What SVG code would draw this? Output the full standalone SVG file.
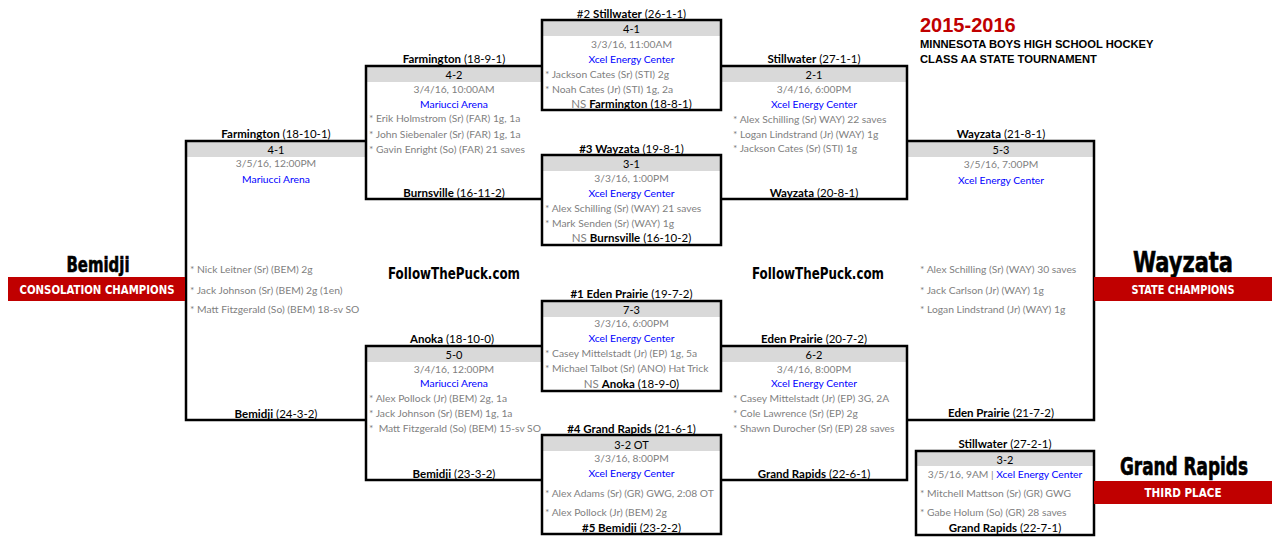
<svg xmlns="http://www.w3.org/2000/svg" width="1282" height="540" viewBox="0 0 1282 540">
<style>
text{font-family:Lato,"Liberation Sans",sans-serif;dominant-baseline:central}
.lbl{font-size:11.5px;fill:#000;text-anchor:middle}
.b{font-weight:bold}
.sc{font-size:11px;fill:#000;text-anchor:middle}
.dt{font-size:10.3px;fill:#7f7f7f;text-anchor:middle}
.vn{font-size:10.3px;fill:#0000ff;text-anchor:middle}
.st{font-size:10.3px;fill:#7f7f7f}
.ns{fill:#7f7f7f;font-weight:normal}
.hdr{fill:#d9d9d9}
.bd{fill:none;stroke:#000;stroke-width:2.5}
.red{fill:#c00000}
.big{font-family:"DejaVu Sans",sans-serif;font-stretch:condensed;font-weight:bold;fill:#000;stroke:#000;stroke-width:0.6;text-anchor:middle;dominant-baseline:auto}
.band{font-family:"DejaVu Sans",sans-serif;font-stretch:condensed;font-weight:bold;fill:#fff;text-anchor:middle;font-size:13px}
.ftp{font-family:"DejaVu Sans",sans-serif;font-stretch:condensed;font-weight:bold;fill:#000;text-anchor:middle;font-size:15px}
.ttl{font-family:"Liberation Sans",Arial,sans-serif;font-weight:bold;dominant-baseline:auto}
</style>

<g id="title">
<text class="ttl" x="920" y="32" font-size="20" fill="#c00000">2015-2016</text>
<text class="ttl" x="920" y="48" font-size="11.2" fill="#000">MINNESOTA BOYS HIGH SCHOOL HOCKEY</text>
<text class="ttl" x="920" y="63" font-size="11.2" fill="#000">CLASS AA STATE TOURNAMENT</text>
</g>

<g id="headers">
<rect class="hdr" x="366" y="66" width="176" height="16"/>
<rect class="hdr" x="721" y="66" width="186" height="16"/>
<rect class="hdr" x="366" y="346" width="176" height="16"/>
<rect class="hdr" x="721" y="346" width="186" height="16"/>
<rect class="hdr" x="186" y="141" width="180" height="16"/>
<rect class="hdr" x="907" y="141" width="187" height="16"/>
</g>

<g id="connectors">
<path class="bd" d="M542,66 H366 V199 H542"/>
<path class="bd" d="M721,66 H907 V199 H721"/>
<path class="bd" d="M542,346 H366 V480 H542"/>
<path class="bd" d="M721,346 H907 V480 H721"/>
<path class="bd" d="M366,141 H186 V420 H366"/>
<path class="bd" d="M907,141 H1094 V420 H907"/>
</g>

<g id="qf1">
<rect x="542" y="20" width="179" height="90" fill="#fff"/>
<rect class="hdr" x="542" y="20" width="179" height="16"/>
<rect class="bd" x="542" y="20" width="179" height="90"/>
<text class="lbl" x="631.5" y="13">#2 <tspan class="b">Stillwater</tspan> (26-1-1)</text>
<text class="sc" x="631.5" y="28">4-1</text>
<text class="dt" x="631.5" y="44">3/3/16, 11:00AM</text>
<text class="vn" x="631.5" y="59">Xcel Energy Center</text>
<text class="st" x="545" y="74">* Jackson Cates (Sr) (STI) 2g</text>
<text class="st" x="545" y="89">* Noah Cates (Jr) (STI) 1g, 2a</text>
<text class="lbl" x="631.5" y="103"><tspan class="ns">NS </tspan><tspan class="b">Farmington</tspan> (18-8-1)</text>
</g>

<g id="qf2">
<rect x="542" y="155" width="179" height="90" fill="#fff"/>
<rect class="hdr" x="542" y="155" width="179" height="16"/>
<rect class="bd" x="542" y="155" width="179" height="90"/>
<text class="lbl" x="631.5" y="148"><tspan class="b">#3 Wayzata</tspan> (19-8-1)</text>
<text class="sc" x="631.5" y="163">3-1</text>
<text class="dt" x="631.5" y="178">3/3/16, 1:00PM</text>
<text class="vn" x="631.5" y="193">Xcel Energy Center</text>
<text class="st" x="545" y="208">* Alex Schilling (Sr) (WAY) 21 saves</text>
<text class="st" x="545" y="223">* Mark Senden (Sr) (WAY) 1g</text>
<text class="lbl" x="631.5" y="237"><tspan class="ns">NS </tspan><tspan class="b">Burnsville</tspan> (16-10-2)</text>
</g>

<g id="qf3">
<rect x="542" y="301" width="179" height="90" fill="#fff"/>
<rect class="hdr" x="542" y="301" width="179" height="16"/>
<rect class="bd" x="542" y="301" width="179" height="90"/>
<text class="lbl" x="631.5" y="293"><tspan class="b">#1 Eden Prairie</tspan> (19-7-2)</text>
<text class="sc" x="631.5" y="309">7-3</text>
<text class="dt" x="631.5" y="323">3/3/16, 6:00PM</text>
<text class="vn" x="631.5" y="338">Xcel Energy Center</text>
<text class="st" x="545" y="353">* Casey Mittelstadt (Jr) (EP) 1g, 5a</text>
<text class="st" x="545" y="368">* Michael Talbot (Sr) (ANO) Hat Trick</text>
<text class="lbl" x="631.5" y="383"><tspan class="ns">NS </tspan><tspan class="b">Anoka</tspan> (18-9-0)</text>
</g>

<g id="qf4">
<rect x="542" y="435" width="179" height="99" fill="#fff"/>
<rect class="hdr" x="542" y="435" width="179" height="16"/>
<rect class="bd" x="542" y="435" width="179" height="99"/>
<text class="lbl" x="631.5" y="428"><tspan class="b">#4 Grand Rapids</tspan> (21-6-1)</text>
<text class="sc" x="631.5" y="444">3-2 OT</text>
<text class="dt" x="631.5" y="458">3/3/16, 8:00PM</text>
<text class="vn" x="631.5" y="473">Xcel Energy Center</text>
<text class="st" x="545" y="493">* Alex Adams (Sr) (GR) GWG, 2:08 OT</text>
<text class="st" x="545" y="512">* Alex Pollock (Jr) (BEM) 2g</text>
<text class="lbl" x="631.5" y="527"><tspan class="b">#5 Bemidji</tspan> (23-2-2)</text>
</g>

<g id="sf1">
<text class="lbl" x="454" y="58"><tspan class="b">Farmington</tspan> (18-9-1)</text>
<text class="sc" x="454" y="74">4-2</text>
<text class="dt" x="454" y="89">3/4/16, 10:00AM</text>
<text class="vn" x="454" y="104">Mariucci Arena</text>
<text class="st" x="369" y="118">* Erik Holmstrom (Sr) (FAR) 1g, 1a</text>
<text class="st" x="369" y="134">* John Siebenaler (Sr) (FAR) 1g, 1a</text>
<text class="st" x="369" y="149">* Gavin Enright (So) (FAR) 21 saves</text>
<text class="lbl" x="454" y="192"><tspan class="b">Burnsville</tspan> (16-11-2)</text>
</g>

<g id="sf2">
<text class="lbl" x="814" y="58"><tspan class="b">Stillwater</tspan> (27-1-1)</text>
<text class="sc" x="814" y="74">2-1</text>
<text class="dt" x="814" y="89">3/4/16, 6:00PM</text>
<text class="vn" x="814" y="104">Xcel Energy Center</text>
<text class="st" x="733" y="119">* Alex Schilling (Sr) WAY) 22 saves</text>
<text class="st" x="733" y="134">* Logan Lindstrand (Jr) (WAY) 1g</text>
<text class="st" x="733" y="148">* Jackson Cates (Sr) (STI) 1g</text>
<text class="lbl" x="814" y="192"><tspan class="b">Wayzata</tspan> (20-8-1)</text>
</g>

<g id="sf3">
<text class="lbl" x="452" y="338"><tspan class="b">Anoka</tspan> (18-10-0)</text>
<text class="sc" x="454" y="354">5-0</text>
<text class="dt" x="454" y="369">3/4/16, 12:00PM</text>
<text class="vn" x="454" y="383">Mariucci Arena</text>
<text class="st" x="369" y="398">* Alex Pollock (Jr) (BEM) 2g, 1a</text>
<text class="st" x="369" y="413">* Jack Johnson (Sr) (BEM) 1g, 1a</text>
<text class="st" x="369" y="428" xml:space="preserve">*  Matt Fitzgerald (So) (BEM) 15-sv SO</text>
<text class="lbl" x="454" y="473"><tspan class="b">Bemidji</tspan> (23-3-2)</text>
</g>

<g id="sf4">
<text class="lbl" x="814" y="338"><tspan class="b">Eden Prairie</tspan> (20-7-2)</text>
<text class="sc" x="814" y="354">6-2</text>
<text class="dt" x="814" y="369">3/4/16, 8:00PM</text>
<text class="vn" x="814" y="383">Xcel Energy Center</text>
<text class="st" x="733" y="398">* Casey Mittelstadt (Jr) (EP) 3G, 2A</text>
<text class="st" x="733" y="413">* Cole Lawrence (Sr) (EP) 2g</text>
<text class="st" x="733" y="428">* Shawn Durocher (Sr) (EP) 28 saves</text>
<text class="lbl" x="814" y="473"><tspan class="b">Grand Rapids</tspan> (22-6-1)</text>
</g>

<g id="final-left">
<text class="lbl" x="276" y="133"><tspan class="b">Farmington</tspan> (18-10-1)</text>
<text class="sc" x="276" y="149">4-1</text>
<text class="dt" x="276" y="163">3/5/16, 12:00PM</text>
<text class="vn" x="276" y="179">Mariucci Arena</text>
<text class="st" x="190" y="269">* Nick Leitner (Sr) (BEM) 2g</text>
<text class="st" x="190" y="290">* Jack Johnson (Sr) (BEM) 2g (1en)</text>
<text class="st" x="190" y="309">* Matt Fitzgerald (So) (BEM) 18-sv SO</text>
<text class="lbl" x="276" y="413"><tspan class="b">Bemidji</tspan> (24-3-2)</text>
</g>

<g id="final-right">
<text class="lbl" x="1001" y="133"><tspan class="b">Wayzata</tspan> (21-8-1)</text>
<text class="sc" x="1001" y="149">5-3</text>
<text class="dt" x="1001" y="164">3/5/16, 7:00PM</text>
<text class="vn" x="1001" y="180">Xcel Energy Center</text>
<text class="st" x="920" y="269">* Alex Schilling (Sr) (WAY) 30 saves</text>
<text class="st" x="920" y="290">* Jack Carlson (Jr) (WAY) 1g</text>
<text class="st" x="920" y="309">* Logan Lindstrand (Jr) (WAY) 1g</text>
<text class="lbl" x="1001" y="412"><tspan class="b">Eden Prairie</tspan> (21-7-2)</text>
</g>

<g id="third-place">
<rect class="hdr" x="916" y="451" width="178" height="15"/>
<rect class="bd" x="916" y="451" width="178" height="84"/>
<text class="lbl" x="1005" y="443"><tspan class="b">Stillwater</tspan> (27-2-1)</text>
<text class="sc" x="1005" y="459">3-2</text>
<text class="dt" x="1005" y="474">3/5/16, 9AM | <tspan fill="#0000ff">Xcel Energy Center</tspan></text>
<text class="st" x="920" y="493">* Mitchell Mattson (Sr) (GR) GWG</text>
<text class="st" x="920" y="512">* Gabe Holum (So) (GR) 28 saves</text>
<text class="lbl" x="1005" y="527"><tspan class="b">Grand Rapids</tspan> (22-7-1)</text>
</g>

<g id="consolation-champion">
<text class="big" x="98" y="272" font-size="22" textLength="63" lengthAdjust="spacingAndGlyphs">Bemidji</text>
<rect class="red" x="8" y="277" width="177" height="24"/>
<text class="band" x="97" y="289" textLength="155" lengthAdjust="spacingAndGlyphs">CONSOLATION CHAMPIONS</text>
</g>

<g id="state-champion">
<text class="big" x="1183" y="272" font-size="29" textLength="100" lengthAdjust="spacingAndGlyphs">Wayzata</text>
<rect class="red" x="1094" y="277" width="178" height="24"/>
<text class="band" x="1183" y="289" textLength="103" lengthAdjust="spacingAndGlyphs">STATE CHAMPIONS</text>
</g>

<g id="third-place-team">
<text class="big" x="1184" y="475" font-size="24" textLength="128" lengthAdjust="spacingAndGlyphs">Grand Rapids</text>
<rect class="red" x="1094" y="481" width="178" height="23"/>
<text class="band" x="1183" y="492" textLength="77" lengthAdjust="spacingAndGlyphs">THIRD PLACE</text>
</g>

<g id="watermarks">
<text class="ftp" x="454" y="274" textLength="132" lengthAdjust="spacingAndGlyphs">FollowThePuck.com</text>
<text class="ftp" x="818" y="274" textLength="132" lengthAdjust="spacingAndGlyphs">FollowThePuck.com</text>
</g>
</svg>
